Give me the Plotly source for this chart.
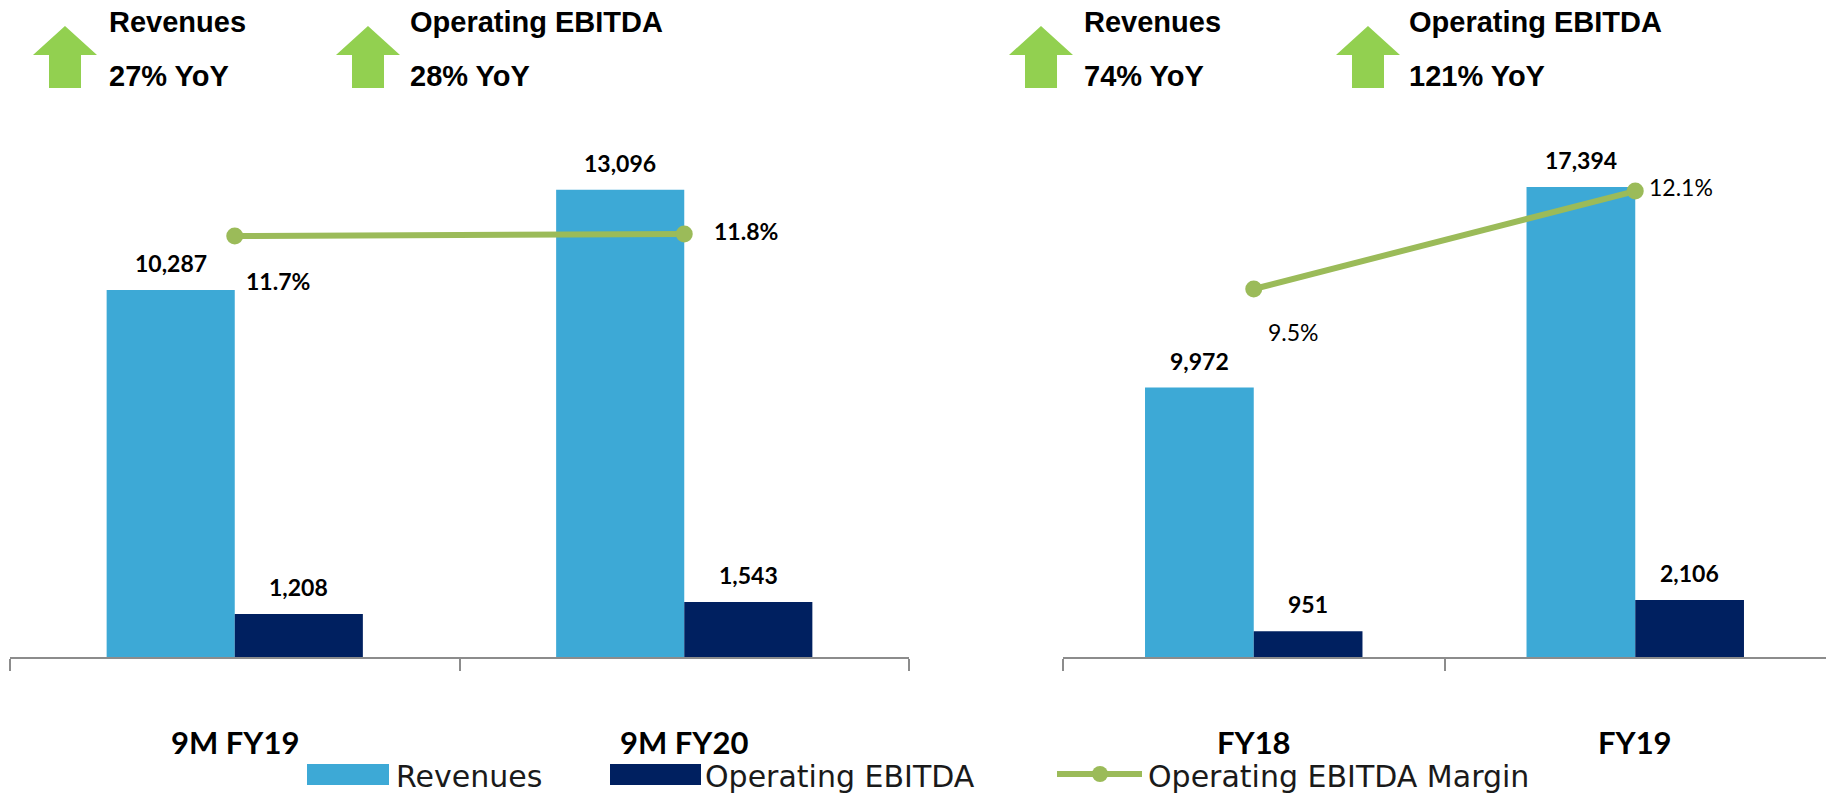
import plotly.graph_objects as go

# ---------------- Data ----------------
left_categories = ["9M FY19", "9M FY20"]
left_revenues = [10287, 13096]
left_ebitda = [1208, 1543]
left_margin = [11.7, 11.8]

right_categories = ["FY18", "FY19"]
right_revenues = [9972, 17394]
right_ebitda = [951, 2106]
right_margin = [9.5, 12.1]

header_titles = ["Revenues", "Operating EBITDA", "Revenues", "Operating EBITDA"]
header_growth = [27, 28, 74, 121]

series_names = ["Revenues", "Operating EBITDA", "Operating EBITDA Margin"]

# ---------------- Style ----------------
W, H = 1832, 796


def px(x):
    return x / W


def py(y):
    return 1 - y / H


REV_COLOR = "#3DA9D6"
EBITDA_COLOR = "#002060"
LINE_COLOR = "#9BBB59"
ARROW_COLOR = "#92D050"
AXIS_COLOR = "#8C8C8C"
LABEL_FONT = "Lato, Open Sans, sans-serif"
HEAD_FONT = "Liberation Sans, Arial, sans-serif"
LEG_FONT = "DejaVu Sans, sans-serif"

fig = go.Figure()

panels = [
    dict(cats=left_categories, rev=left_revenues, ebd=left_ebitda, mar=left_margin,
         xa="x", ya="y", ya2="y2", bold=True, half=64,
         mar_shift=[(9, -45), (28, 3)]),
    dict(cats=right_categories, rev=right_revenues, ebd=right_ebitda, mar=right_margin,
         xa="x2", ya="y3", ya2="y4", bold=False, half=54,
         mar_shift=[(12, -43), (12, 4)]),
]

annotations = []
for p in panels:
    fig.add_trace(go.Bar(x=p["cats"], y=p["rev"], name=series_names[0],
                         marker=dict(color=REV_COLOR, line=dict(width=0)),
                         xaxis=p["xa"], yaxis=p["ya"], showlegend=False))
    fig.add_trace(go.Bar(x=p["cats"], y=p["ebd"], name=series_names[1],
                         marker=dict(color=EBITDA_COLOR, line=dict(width=0)),
                         xaxis=p["xa"], yaxis=p["ya"], showlegend=False))
    fig.add_trace(go.Scatter(x=p["cats"], y=p["mar"], name=series_names[2],
                             mode="lines+markers",
                             line=dict(color=LINE_COLOR, width=6),
                             marker=dict(color=LINE_COLOR, size=17),
                             xaxis=p["xa"], yaxis=p["ya2"], showlegend=False))
    xref = p["xa"]
    for c, v in zip(p["cats"], p["rev"]):
        annotations.append(dict(x=c, y=v, xref=xref, yref=p["ya"], text=f"<b>{v:,}</b>",
                                showarrow=False, xshift=-p["half"], yshift=27,
                                yanchor="middle", font=dict(family=LABEL_FONT, size=23, color="#000")))
    for c, v in zip(p["cats"], p["ebd"]):
        annotations.append(dict(x=c, y=v, xref=xref, yref=p["ya"], text=f"<b>{v:,}</b>",
                                showarrow=False, xshift=p["half"], yshift=27,
                                yanchor="middle", font=dict(family=LABEL_FONT, size=23, color="#000")))
    for (c, m), (dx, dy) in zip(zip(p["cats"], p["mar"]), p["mar_shift"]):
        t = f"{m:.1f}%"
        if p["bold"]:
            t = f"<b>{t}</b>"
        annotations.append(dict(x=c, y=m, xref=xref, yref=p["ya2"], text=t,
                                showarrow=False, xanchor="left", yanchor="middle",
                                xshift=dx, yshift=dy,
                                font=dict(family=LABEL_FONT, size=23, color="#000")))
    for c in p["cats"]:
        annotations.append(dict(x=c, y=py(742), xref=xref, yref="paper", text=f"<b>{c}</b>",
                                showarrow=False, yanchor="middle", borderpad=0,
                                font=dict(family=LABEL_FONT, size=31, color="#000")))

# ---------------- Header (arrows + growth texts) ----------------
shapes = []
arrow_centers = [65, 368, 1041, 1368]
text_lefts = [107, 408, 1082, 1407]
for cx, tl, title, g in zip(arrow_centers, text_lefts, header_titles, header_growth):
    pts = [(cx - 32, 55), (cx, 26), (cx + 32, 55), (cx + 16, 55), (cx + 16, 88),
           (cx - 16, 88), (cx - 16, 55)]
    path = "M " + " L ".join(f"{px(a):.5f},{py(b):.5f}" for a, b in pts) + " Z"
    shapes.append(dict(type="path", path=path, xref="paper", yref="paper",
                       fillcolor=ARROW_COLOR, line=dict(width=0)))
    annotations.append(dict(x=px(tl), y=py(22), xref="paper", yref="paper",
                            text=f"<b>{title}</b>", showarrow=False, xanchor="left",
                            yanchor="middle", font=dict(family=HEAD_FONT, size=29, color="#000")))
    annotations.append(dict(x=px(tl), y=py(76), xref="paper", yref="paper",
                            text=f"<b>{g}% YoY</b>", showarrow=False, xanchor="left",
                            yanchor="middle", font=dict(family=HEAD_FONT, size=29, color="#000")))

# ---------------- Custom legend ----------------
shapes.append(dict(type="rect", xref="paper", yref="paper", x0=px(307), x1=px(389),
                   y0=py(785), y1=py(764), fillcolor=REV_COLOR, line=dict(width=0)))
shapes.append(dict(type="rect", xref="paper", yref="paper", x0=px(610), x1=px(701),
                   y0=py(785), y1=py(764), fillcolor=EBITDA_COLOR, line=dict(width=0)))
shapes.append(dict(type="line", xref="paper", yref="paper", x0=px(1057), x1=px(1142),
                   y0=py(774), y1=py(774), line=dict(color=LINE_COLOR, width=6)))
shapes.append(dict(type="circle", xref="paper", yref="paper", x0=px(1092), x1=px(1108),
                   y0=py(782), y1=py(766), fillcolor=LINE_COLOR, line=dict(width=0)))
for left, name in zip([395, 704, 1147], series_names):
    annotations.append(dict(x=px(left), y=py(776), xref="paper", yref="paper", text=name,
                            showarrow=False, xanchor="left", yanchor="middle", borderpad=0,
                            font=dict(family=LEG_FONT, size=30, color="#1a1a1a")))

# ---------------- Axes ----------------
xcommon = dict(type="category", showline=True, linecolor=AXIS_COLOR, linewidth=2,
               ticks="outside", tickson="boundaries", ticklen=12, tickwidth=2,
               tickcolor=AXIS_COLOR, showticklabels=False, showgrid=False,
               zeroline=False, fixedrange=True)
yhidden = dict(visible=False, showgrid=False, zeroline=False, fixedrange=True)
ydom = [py(657), py(130)]

fig.update_layout(
    width=W, height=H, autosize=False,
    margin=dict(l=0, r=0, t=0, b=0),
    paper_bgcolor="white", plot_bgcolor="white",
    barmode="group", bargap=0.43, bargroupgap=0,
    showlegend=False,
    xaxis=dict(domain=[px(10), px(909)], anchor="y", **xcommon),
    yaxis=dict(domain=ydom, range=[0, 14774], anchor="x", **yhidden),
    yaxis2=dict(overlaying="y", range=[-9.35, 17.0], anchor="x", **yhidden),
    xaxis2=dict(domain=[px(1063), px(1826)], anchor="y3", **xcommon),
    yaxis3=dict(domain=ydom, range=[0, 19504], anchor="x2", **yhidden),
    yaxis4=dict(overlaying="y3", range=[-0.264, 13.72], anchor="x2", **yhidden),
    annotations=annotations,
    shapes=shapes,
)

fig.write_html("out.html", config={"displayModeBar": False},
               post_script="document.body.style.margin='0';")
